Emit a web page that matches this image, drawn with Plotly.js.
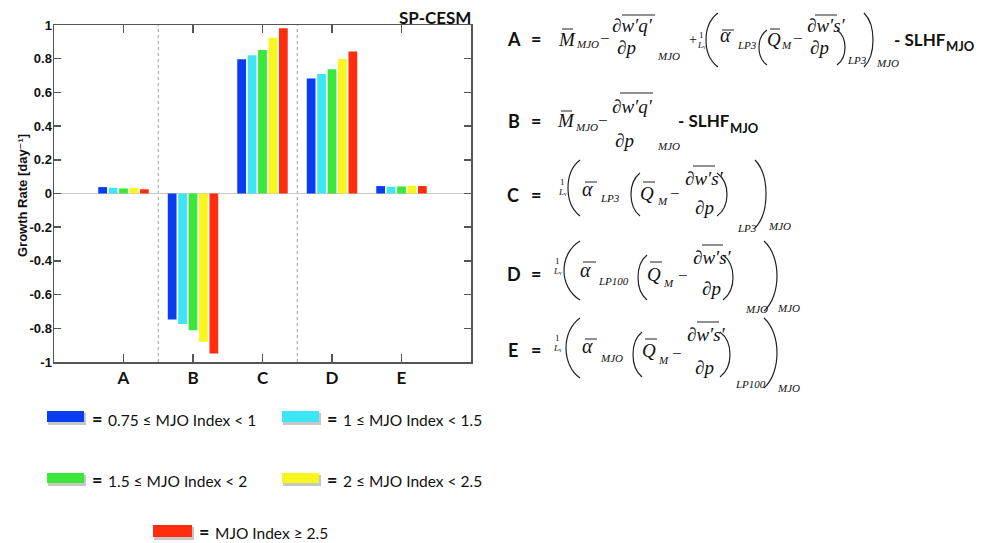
<!DOCTYPE html>
<html>
<head>
<meta charset="utf-8">
<script src="https://cdn.plot.ly/plotly-3.0.1.min.js"></script>
<style>html,body{margin:0;padding:0;background:#fff;}#chart{width:983px;height:543px;}</style>
</head>
<body>
<div id="chart"></div>
<script>
// ---------- data ----------
const categories = ['A', 'B', 'C', 'D', 'E'];
const seriesNames = ['0.75 ≤ MJO Index < 1', '1 ≤ MJO Index < 1.5', '1.5 ≤ MJO Index < 2', '2 ≤ MJO Index < 2.5', 'MJO Index ≥ 2.5'];
const idx075_1  = [0.038, -0.748, 0.797, 0.683, 0.044];
const idx1_15   = [0.034, -0.775, 0.821, 0.709, 0.040];
const idx15_2   = [0.030, -0.811, 0.851, 0.737, 0.042];
const idx2_25   = [0.033, -0.880, 0.924, 0.798, 0.046];
const idx25plus = [0.025, -0.949, 0.981, 0.842, 0.044];
const yTickVals = [-1, -0.8, -0.6, -0.4, -0.2, 0, 0.2, 0.4, 0.6, 0.8, 1];
const yTickText = ['-1', '-0.8', '-0.6', '-0.4', '-0.2', '0', '0.2', '0.4', '0.6', '0.8', '1'];
const dividers = [0.5, 2.5]; // between A|B and C|D

const seriesValues = [idx075_1, idx1_15, idx15_2, idx2_25, idx25plus];
const colors = ['#0a3cf0', '#3ee6f5', '#3ae83a', '#f7f71e', '#ff2d0d'];

// ---------- geometry helpers ----------
const L = 54, R = 471, T = 25, B = 362;
const px = x => (x - L) / (R - L);
const py = y => (B - y) / (B - T);
const SERIF = 'Liberation Serif, Times New Roman, serif';
const SANS = 'Lato, Liberation Sans, sans-serif';
const ann = [];
const shp = [];
function txt(x, y, t, size, family, opt) {
  opt = opt || {};
  ann.push(Object.assign({
    xref: 'paper', yref: 'paper', x: px(x), y: py(y), text: t, showarrow: false,
    xanchor: 'left', yanchor: 'middle', borderpad: 0,
    font: {family: family || SERIF, size: size || 19, color: '#111'}
  }, opt));
}
function m(x, y, t, size) { txt(x, y, '<i>' + t + '</i>', size || 19, SERIF); }
function bar(x0, x1, y) {
  shp.push({type: 'line', xref: 'paper', yref: 'paper', x0: px(x0), x1: px(x1), y0: py(y), y1: py(y),
    line: {color: '#222', width: 1}});
}
function paren(kind, xl, xr, yt, yb) {
  const h = yb - yt;
  const w = xr - xl;
  let p;
  if (kind === '(') {
    const c = xl - w / 3;
    p = `M ${px(xr)},${py(yt)} C ${px(c)},${py(yt + h * 0.22)} ${px(c)},${py(yb - h * 0.22)} ${px(xr)},${py(yb)}`;
  } else {
    const c = xr + w / 3;
    p = `M ${px(xl)},${py(yt)} C ${px(c)},${py(yt + h * 0.22)} ${px(c)},${py(yb - h * 0.22)} ${px(xl)},${py(yb)}`;
  }
  shp.push({type: 'path', xref: 'paper', yref: 'paper', path: p, line: {color: '#222', width: 1.2}});
}
function label(x, y, t) { txt(x, y, '<b>' + t + '</b>', 18, SANS); }
function eq(x, y) { txt(x, y, '<b>=</b>', 18, SANS); }
function invL(x, y) { txt(x + 1, y - 5, '1', 9, SERIF); txt(x - 1, y + 5, '<i>L</i>ᵥ', 9, SERIF); }
// "- SLHF" ending at xe, subscript "MJO" starting just after
function slhf(xe, y) {
  txt(xe, y, '<b>- SLHF</b>', 17, SANS, {xanchor: 'right'});
  txt(xe - 2, y + 7, '<b>MJO</b>', 13, SANS);
}

// ---------- equations ----------
// A
label(506, 39, 'A'); eq(530, 39);
m(557, 39, 'M'); bar(562, 573, 29); m(575, 44, 'MJO', 11);
txt(599, 38, '−', 17);
m(611, 26, '∂w′q′'); bar(622, 655, 15); m(616, 47, '∂p'); m(656, 56, 'MJO', 11);
txt(688, 40, '+', 14);
invL(697, 40);
paren('(', 706, 718, 13, 67);
m(719, 35, 'α', 20); bar(722, 734, 30); m(736, 45, 'LP3', 11);
paren('(', 759, 767, 30, 65);
m(766, 39, 'Q'); bar(770, 780, 29); m(780, 45, 'M', 11);
txt(792, 38, '−', 17);
m(806, 26, '∂w′s′'); bar(815, 837, 15); m(809, 47, '∂p');
paren(')', 837, 845, 30, 65); m(846, 60, 'LP3', 11);
paren(')', 864, 873, 13, 67); m(875, 63, 'MJO', 11);
slhf(947, 39);
// B
label(507, 121, 'B'); eq(530, 121);
m(556, 121, 'M'); bar(561, 572, 111); m(574, 127, 'MJO', 11);
txt(597, 121, '−', 17);
m(611, 107, '∂w′q′'); bar(620, 653, 93); m(614, 140, '∂p'); m(656, 146, 'MJO', 11);
slhf(731, 121);
// C
label(506, 195, 'C'); eq(530, 195);
invL(558, 187);
paren('(', 568, 580, 160, 216);
m(581, 189, 'α', 20); bar(585, 597, 182); m(599, 198, 'LP3', 11);
paren('(', 631, 640, 173, 216);
m(639, 193, 'Q'); bar(643, 655, 182); m(656, 201, 'M', 11);
txt(669, 193, '−', 17);
m(684, 178, '∂w′s′'); bar(693, 715, 166); m(694, 207, '∂p');
paren(')', 717, 727, 173, 216); m(736, 228, 'LP3', 11);
paren(')', 755, 766, 160, 228); m(767, 226, 'MJO', 11);
// D
label(506, 274, 'D'); eq(530, 274);
invL(553, 266);
paren('(', 564, 580, 241, 300);
m(579, 270, 'α', 20); bar(583, 596, 262); m(597, 281, 'LP100', 11);
paren('(', 638, 647, 255, 300);
m(646, 274, 'Q'); bar(650, 662, 262); m(662, 283, 'M', 11);
txt(677, 275, '−', 17);
m(692, 257, '∂w′s′'); bar(702, 723, 245); m(701, 288, '∂p');
paren(')', 723, 733, 255, 300); m(744, 309, 'MJO', 11);
paren(')', 764, 777, 241, 311); m(776, 308, 'MJO', 11);
// E
label(507, 350, 'E'); eq(530, 350);
invL(553, 343);
paren('(', 566, 580, 318, 378);
m(581, 346, 'α', 20); bar(585, 597, 339); m(599, 358, 'MJO', 11);
paren('(', 633, 642, 332, 377);
m(641, 350, 'Q'); bar(645, 657, 339); m(657, 360, 'M', 11);
txt(671, 353, '−', 17);
m(686, 334, '∂w′s′'); bar(697, 719, 322); m(694, 367, '∂p');
paren(')', 720, 730, 332, 377); m(734, 384, 'LP100', 11);
paren(')', 764, 777, 318, 388); m(776, 388, 'MJO', 11);

// ---------- custom legend ----------
const legendPos = [
  {x0: 47, x1: 84, y0: 411, y1: 422, ex: 91, tx: 107, ty: 420},
  {x0: 282, x1: 319, y0: 411, y1: 422, ex: 326, tx: 342, ty: 420},
  {x0: 47, x1: 84, y0: 473, y1: 483, ex: 91, tx: 107, ty: 481},
  {x0: 282, x1: 319, y0: 473, y1: 483, ex: 326, tx: 342, ty: 481},
  {x0: 153, x1: 192, y0: 525, y1: 537, ex: 198, tx: 214, ty: 533}
];
legendPos.forEach((p, i) => {
  shp.push({type: 'rect', xref: 'paper', yref: 'paper', x0: px(p.x0 + 1), x1: px(p.x1 + 2), y0: py(p.y0 + 2), y1: py(p.y1 + 3),
    fillcolor: 'rgba(0,0,0,0.22)', line: {width: 0}});
  shp.push({type: 'rect', xref: 'paper', yref: 'paper', x0: px(p.x0), x1: px(p.x1), y0: py(p.y0), y1: py(p.y1),
    fillcolor: colors[i], line: {width: 0}});
  txt(p.ex, p.ty - 1, '<b>=</b>', 18, SANS);
  txt(p.tx, p.ty, seriesNames[i], 15.5, SANS);
});

// ---------- chart texts ----------
txt(472, 17, '<b>SP-CESM</b>', 17, SANS, {xanchor: 'right'});
txt(22, 196, '<b>Growth Rate [day⁻¹]</b>', 13, 'Liberation Sans, DejaVu Sans, sans-serif',
  {xanchor: 'center', textangle: -90});

// divider lines between groups
dividers.forEach(xv => shp.push({type: 'line', xref: 'x', yref: 'paper', x0: xv, x1: xv, y0: 0, y1: 1,
  line: {color: '#999', width: 1, dash: 'dot'}, layer: 'below'}));

const traces = seriesValues.map((vals, i) => ({
  type: 'bar', x: categories, y: vals, name: seriesNames[i],
  marker: {color: colors[i], line: {width: 0}}, hoverinfo: 'x+y'
}));

const layout = {
  width: 983, height: 543, autosize: false,
  margin: {l: L, r: 983 - R, t: T, b: 543 - B, pad: 0},
  paper_bgcolor: '#fff', plot_bgcolor: '#fff',
  showlegend: false, barmode: 'group', bargap: 0.25, bargroupgap: 0.16,
  xaxis: {
    type: 'category', range: [-1, 5], showgrid: false, zeroline: false,
    showline: true, mirror: 'ticks', linecolor: '#555', linewidth: 1.5,
    ticks: 'inside', ticklen: 8, tickwidth: 1.5, tickcolor: '#555',
    tickfont: {family: SANS, size: 17, color: '#111', weight: 'bold'}
  },
  yaxis: {
    range: [-1, 1], tickvals: yTickVals, ticktext: yTickText,
    showgrid: false, zeroline: true, zerolinecolor: '#c8c8c8', zerolinewidth: 1,
    showline: true, mirror: 'ticks', linecolor: '#555', linewidth: 1.5,
    ticks: 'inside', ticklen: 7, tickwidth: 1.5, tickcolor: '#555', ticklabelstandoff: -2,
    tickfont: {family: 'Liberation Sans, Arial, sans-serif', size: 13, color: '#111', weight: 'bold'}
  },
  annotations: ann,
  shapes: shp
};

Plotly.newPlot('chart', traces, layout, {staticPlot: true, displayModeBar: false});
</script>
</body>
</html>
